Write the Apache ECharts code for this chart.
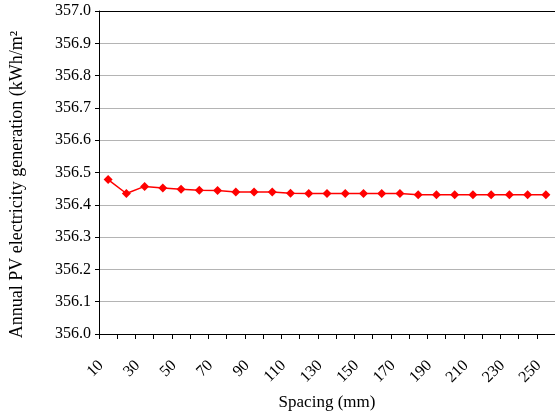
<!DOCTYPE html>
<html>
<head>
<meta charset="utf-8">
<script src="https://cdn.jsdelivr.net/npm/echarts@6/dist/echarts.min.js"></script>
<style>
  html, body { margin: 0; padding: 0; background: #fff; }
  #chart { width: 555px; height: 419px; }
</style>
</head>
<body>
<div id="chart"></div>
<script>
// spacing (mm)
var spacing = [10, 20, 30, 40, 50, 60, 70, 80, 90, 100, 110, 120, 130,
  140, 150, 160, 170, 180, 190, 200, 210, 220, 230, 240, 250];
// annual PV generation (kWh/m2)
var generation = [356.478, 356.435, 356.457, 356.452, 356.448, 356.445, 356.444,
  356.440, 356.440, 356.440, 356.436, 356.435, 356.435, 356.435, 356.435,
  356.435, 356.435, 356.431, 356.431, 356.431, 356.431, 356.431, 356.431,
  356.431, 356.431];

var font = "Liberation Serif";
var chart = echarts.init(document.getElementById("chart"));
chart.setOption({
  animation: false,
  grid: { left: 99, top: 11, right: -7, bottom: 85 },
  xAxis: [
    {
      type: "category",
      data: spacing,
      boundaryGap: true,
      name: "Spacing (mm)",
      nameLocation: "middle",
      nameGap: 60,
      nameTextStyle: { fontFamily: font, fontSize: 17, color: "#000" },
      axisLine: { lineStyle: { color: "#000", width: 1 } },
      axisTick: { show: true, interval: 0, length: 5, lineStyle: { color: "#000" } },
      axisLabel: {
        interval: 1,
        rotate: 45,
        margin: 22,
        padding: [0, 10, 0, 0],
        fontFamily: font,
        fontSize: 16,
        color: "#000"
      },
      splitLine: { show: false }
    },
    {
      type: "category",
      data: spacing,
      position: "top",
      axisLine: { lineStyle: { color: "#000", width: 1 } },
      axisTick: { show: false },
      axisLabel: { show: false }
    }
  ],
  yAxis: {
    type: "value",
    min: 356.0,
    max: 357.0,
    interval: 0.1,
    name: "Annual PV electricity generation (kWh/m²",
    nameLocation: "middle",
    nameGap: 73,
    nameTextStyle: { fontFamily: font, fontSize: 18, color: "#000", padding: [0, 24, 0, 0] },
    axisLine: { show: true, lineStyle: { color: "#000", width: 1 } },
    axisTick: { show: true, length: 4, lineStyle: { color: "#000" } },
    axisLabel: {
      fontFamily: font,
      fontSize: 16,
      color: "#000",
      margin: 8,
      formatter: function (v) { return v.toFixed(1); }
    },
    splitLine: { lineStyle: { color: "#b4b4b4", width: 1 } }
  },
  series: [
    {
      type: "line",
      data: generation,
      symbol: "diamond",
      symbolSize: 9,
      lineStyle: { color: "#ff0000", width: 1.5 },
      itemStyle: { color: "#ff0000" }
    }
  ]
});
</script>
</body>
</html>
